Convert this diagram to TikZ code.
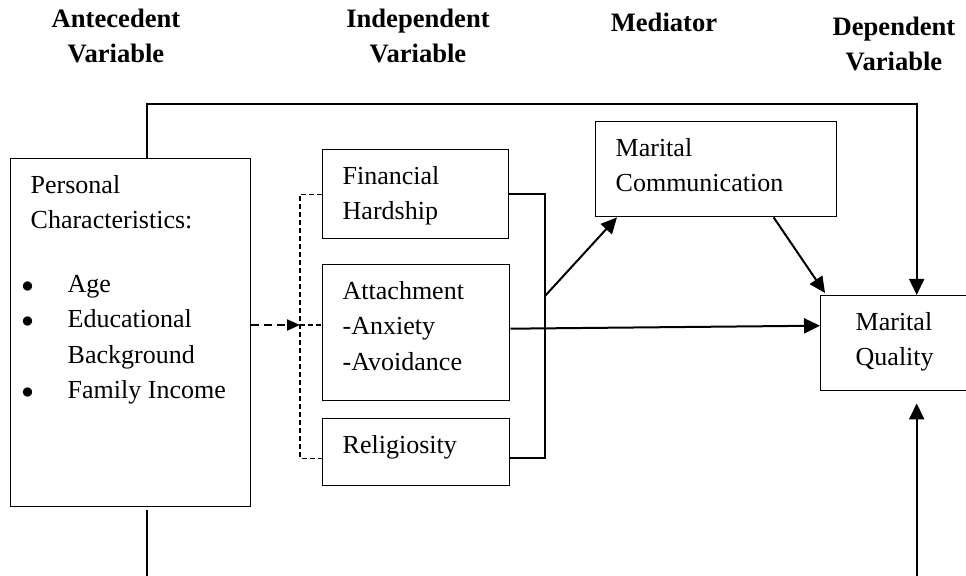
\documentclass[tikz,border=0pt]{standalone}
\usepackage{fontspec}
\setmainfont{Liberation Serif}
\usetikzlibrary{arrows.meta}
\newcommand{\boxtext}[3]{\parbox[c][#1][t]{#2}{\raggedright\rule{0pt}{17.25pt}#3}}
\newcommand{\pcitem}{\hspace*{-4.5pt}\makebox[23pt][l]{$\bullet$}}

\begin{document}
\begin{tikzpicture}[x=0.5pt,y=-0.5pt,font=\fontsize{13}{17.75}\selectfont,
  box/.style={draw,line width=0.7pt,anchor=north west,inner xsep=10pt,inner ysep=0pt},
  head/.style={font=\fontsize{13.3}{17.75}\selectfont\bfseries,align=center,anchor=base},
  link/.style={line width=0.7pt},
  arr/.style={line width=1pt,-{Triangle[length=8pt,width=7.5pt]}},
  darr/.style={line width=1pt,dash pattern=on 4pt off 2.5pt,-{Triangle[length=6.5pt,width=5.5pt]}},
  dlink/.style={line width=0.6pt,dash pattern=on 2.5pt off 1.5pt}]
\useasboundingbox (0,0) rectangle (966,576);
\clip (0,0) rectangle (966,576);
% column headings (base = last line)
\node[head] (hant) at (116,63) {Antecedent\\Variable};
\node[head] (hind) at (418,63) {Independent\\Variable};
\node[head] (hmed) at (664,32) {Mediator};
\node[head] (hdep) at (894,71) {Dependent\\Variable};
% variable boxes
\node[box] (pc) at (10,158) {\boxtext{174pt}{100pt}{Personal\\Characteristics:\\[14pt]\pcitem Age\\\pcitem Educational\\\hspace*{18.5pt}Background\\\pcitem Family Income}};
\node[box] (fh) at (322,149) {\boxtext{44.5pt}{73pt}{Financial\\Hardship}};
\node[box] (att) at (322,264) {\boxtext{68pt}{73.5pt}{Attachment\\-Anxiety\\-Avoidance}};
\node[box] (rel) at (322,418) {\boxtext{33.5pt}{73.5pt}{Religiosity}};
\node[box] (mc) at (595,121) {\boxtext{47.5pt}{100.5pt}{Marital\\Communication}};
\node[box,inner xsep=17.5pt] (mq) at (820,295) {\boxtext{47.5pt}{61pt}{Marital\\Quality}};
% bends of the connectors
\coordinate (lb) at (300,325);
\coordinate (rb) at (545,296);
\coordinate (up) at (147,104);
\coordinate (down) at (147,620);
\coordinate (rw) at ([yshift=-3pt]rel.west);
\coordinate (re) at ([yshift=-3pt]rel.east);
% antecedent to independent
\draw[darr] (pc.east |- lb) -- (lb);
\draw[dlink] (lb) -- (att.west |- lb);
\draw[dlink] (fh.west) -- (fh.west -| lb) -- (rw -| lb) -- (rw);
% independent to mediator and dependent
\draw[link] (fh.east) -- (fh.east -| rb) -- (re -| rb) -- (re);
\draw[arr] (rb) -- ([xshift=11pt]mc.south west);
\draw[arr] ([yshift=2pt]att.east) -- ([yshift=8.75pt]mq.west);
\draw[arr] (mc.-40.6) -- ([shift={(2.5pt,1pt)}]mq.north west);
% antecedent to dependent
\draw[arr] (up |- pc.north) -- (up) -| (mq.north);
\draw[arr,shorten <=1.5pt,shorten >=6pt] (up |- pc.south) -- (down) -| (mq.south);
\end{tikzpicture}
\end{document}
